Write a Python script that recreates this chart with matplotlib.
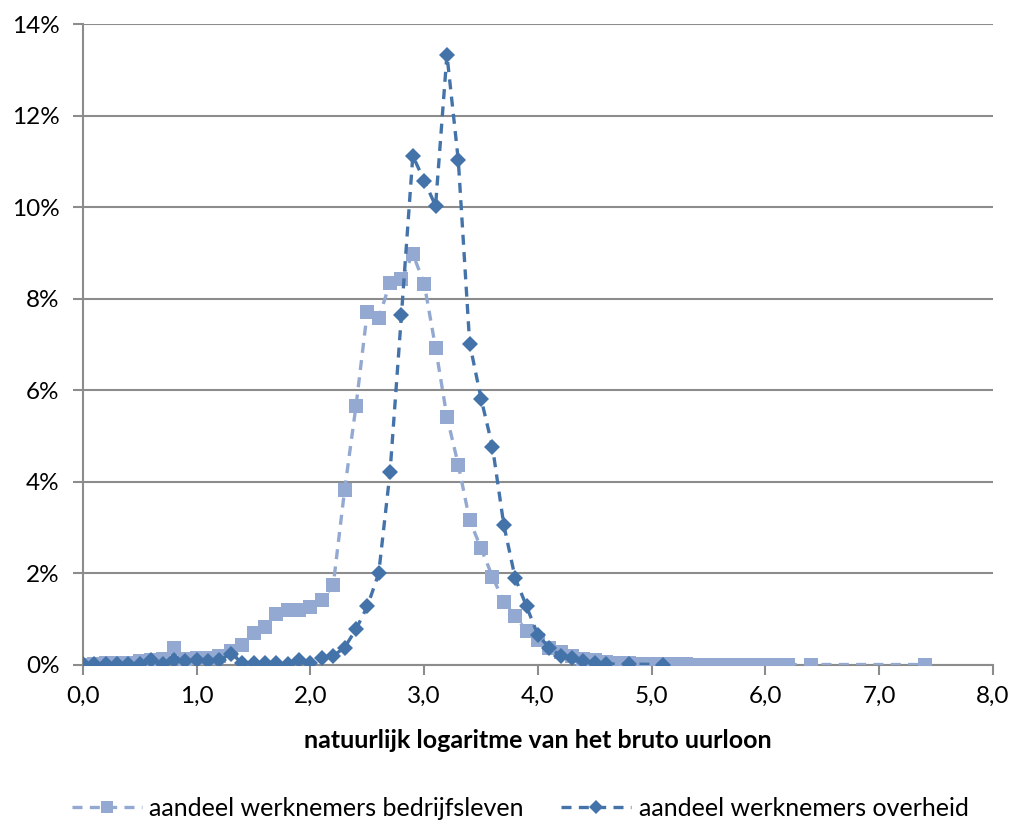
import matplotlib
matplotlib.use("Agg")
import matplotlib.pyplot as plt
import numpy as np
from matplotlib.ticker import FuncFormatter

plt.rcParams['font.family'] = ['Lato', 'DejaVu Sans']

# bedrijfsleven: 0.0 .. 6.2 step 0.1, then 6.4 and 7.4
x_bedrijf = [round(i * 0.1, 1) for i in range(63)] + [6.4, 7.4]
y_bedrijf = [0.00, 0.02, 0.05, 0.05, 0.05, 0.08, 0.10, 0.12, 0.37, 0.12,
             0.15, 0.15, 0.20, 0.30, 0.44, 0.70, 0.83, 1.12, 1.20, 1.20,
             1.27, 1.42, 1.74, 3.82, 5.65, 7.72, 7.58, 8.35, 8.43, 8.98,
             8.33, 6.93, 5.42, 4.37, 3.16, 2.55, 1.93, 1.38, 1.07, 0.74,
             0.55, 0.38, 0.28, 0.20, 0.14, 0.10, 0.07, 0.05, 0.04, 0.03,
             0.03, 0.02, 0.02, 0.02, 0.01, 0.01, 0.01, 0.01, 0.01, 0.01,
             0.01, 0.01, 0.01, 0.01, 0.01]

# overheid: 0.0 .. 4.6 step 0.1, then 4.8 and 5.1
x_overheid = [round(i * 0.1, 1) for i in range(47)] + [4.8, 5.1]
y_overheid = [0.02, 0.02, 0.02, 0.03, 0.02, 0.03, 0.10, 0.03, 0.10, 0.08,
              0.10, 0.08, 0.10, 0.25, 0.05, 0.04, 0.05, 0.05, 0.02, 0.10,
              0.04, 0.15, 0.20, 0.38, 0.78, 1.28, 2.00, 4.22, 7.65, 11.12,
              10.58, 10.03, 13.33, 11.02, 7.02, 5.82, 4.77, 3.06, 1.90, 1.28,
              0.65, 0.38, 0.20, 0.15, 0.08, 0.05, 0.02, 0.02, 0.01]

light = '#93A9D1'
dark = '#4473AA'
grid_c = '#8C8C8C'

fig = plt.figure(figsize=(10.16, 8.23), dpi=100)
ax = fig.add_axes([0.0817, 0.192, 0.8955, 0.7788])

ax.plot(x_bedrijf, y_bedrijf, color=light, linestyle='--', linewidth=2.4,
        marker='s', markersize=10, markeredgewidth=0, dashes=(3, 2.2),
        label='aandeel werknemers bedrijfsleven', zorder=3)
ax.plot(x_overheid, y_overheid, color=dark, linestyle='--', linewidth=2.4,
        marker='D', markersize=8, markeredgewidth=0, dashes=(3, 2.2),
        label='aandeel werknemers overheid', zorder=4)

ax.set_xlim(0, 8)
ax.set_ylim(0, 14)
ax.set_xticks(np.arange(0, 8.1, 1))
ax.set_yticks(np.arange(0, 14.1, 2))
ax.xaxis.set_major_formatter(FuncFormatter(lambda v, p: f'{v:.1f}'.replace('.', ',')))
ax.yaxis.set_major_formatter(FuncFormatter(lambda v, p: f'{v:.0f}%'))
ax.tick_params(axis='both', labelsize=17.5, color=grid_c, length=7, width=1.5)
ax.tick_params(axis='x', pad=8)
ax.tick_params(axis='y', pad=10)

ax.grid(axis='y', color=grid_c, linewidth=1.5)
ax.set_axisbelow(True)
for s in ['top', 'right']:
    ax.spines[s].set_visible(False)
for s in ['left', 'bottom']:
    ax.spines[s].set_color(grid_c)
    ax.spines[s].set_linewidth(1.5)

ax.set_xlabel('natuurlijk logaritme van het bruto uurloon', fontsize=18,
              fontweight='bold', labelpad=16)

leg = fig.legend(loc='center', bbox_to_anchor=(0.512, 0.018), ncol=2, frameon=False,
                 fontsize=18, handlelength=2.8, handletextpad=0.3,
                 columnspacing=1.5, borderaxespad=0, markerscale=0.85)

fig.savefig('out.png', dpi=100)
